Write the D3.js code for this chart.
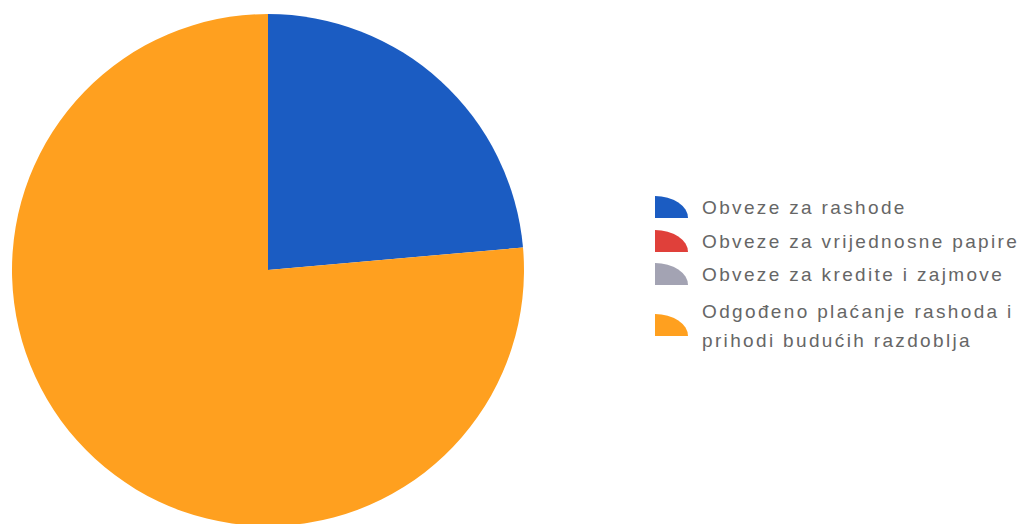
<!DOCTYPE html>
<html><head><meta charset="utf-8">
<script src="https://cdn.jsdelivr.net/npm/d3@7"></script>
<style>body{margin:0;background:#fff}svg{display:block}</style>
</head><body>
<svg id="c" width="1021" height="524"></svg>
<script>
const categories = ["Obveze za rashode", "Obveze za vrijednosne papire", "Obveze za kredite i zajmove", "Odgođeno plaćanje rashoda i prihodi budućih razdoblja"];
const legendLines = [["Obveze za rashode"], ["Obveze za vrijednosne papire"], ["Obveze za kredite i zajmove"], ["Odgođeno plaćanje rashoda i", "prihodi budućih razdoblja"]];
const values = [23.6, 0, 0, 76.4];
const colors = ["#1b5cc2", "#e0403a", "#a3a3b3", "#ffa01f"];

const svg = d3.select("#c");
const cx = 268, cy = 270, r = 256;
const pie = d3.pie().sort(null).value(d => d)(values);
const arc = d3.arc().innerRadius(0).outerRadius(r);
svg.append("g").attr("transform", `translate(${cx},${cy})`)
  .selectAll("path").data(pie).enter().append("path")
  .attr("d", arc).attr("fill", (d, i) => colors[i]);

const iconArc = d3.arc().innerRadius(0).outerRadius(1).startAngle(0).endAngle(Math.PI / 2);
const rowsY = [207, 241, 274, 325];
const lg = svg.append("g");
categories.forEach((c, i) => {
  const g = lg.append("g").attr("transform", `translate(655,${rowsY[i]})`);
  g.append("path").attr("d", iconArc()).attr("transform", "translate(0,11) scale(33,22)").attr("fill", colors[i]);
  const lines = legendLines[i];
  const t = g.append("text").attr("x", 47).attr("fill", "#666")
    .style("font-family", "Liberation Sans, Arial, sans-serif").style("font-size", "19px").style("letter-spacing", "2.35px");
  lines.forEach((ln, j) => {
    t.append("tspan").attr("x", 47).attr("y", (lines.length === 1 ? 7 : -7 + j * 29)).text(ln);
  });
});
</script>
</body></html>
